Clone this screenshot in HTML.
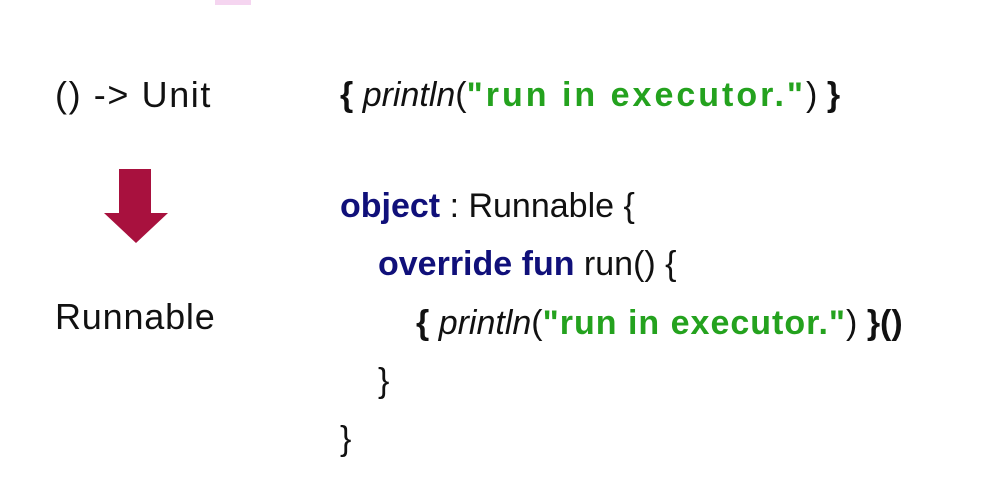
<!DOCTYPE html>
<html><head><meta charset="utf-8"><style>
body{margin:0;width:1000px;height:478px;background:#fff;position:relative;overflow:hidden;font-family:"Liberation Sans",sans-serif;color:#111}
.t{position:absolute;font-size:34px;white-space:nowrap;line-height:1}
.k{color:#10107a;font-weight:bold}
.s{color:#24a21e;font-weight:bold;letter-spacing:1.5px}
i{font-style:italic}
b{font-weight:bold}
</style></head><body>
<div style="position:absolute;left:215px;top:0;width:36px;height:5px;background:#f5d5f0"></div>
<div class="t" style="left:55px;top:77px;font-size:36px;letter-spacing:1.6px">() -&gt; Unit</div>
<div class="t" style="left:55px;top:299px;font-size:36px;letter-spacing:0.8px">Runnable</div>
<svg style="position:absolute;left:0;top:0" width="1000" height="478"><polygon points="119,169 151,169 151,213 168,213 136,243 104,213 119,213" fill="#a8113e"/></svg>
<div class="t" style="left:340px;top:78px"><b>{</b> <i>println</i>(<span class="s" style="letter-spacing:3px">"run in executor."</span>) <b>}</b></div>
<div class="t" style="left:340px;top:189px"><span class="k">object</span> : Runnable {</div>
<div class="t" style="left:378px;top:247px"><span class="k">override fun</span> run() {</div>
<div class="t" style="left:416px;top:306px"><b>{</b> <i>println</i>(<span class="s" style="letter-spacing:1px">"run in executor."</span>) <b>}()</b></div>
<div class="t" style="left:378px;top:364px">}</div>
<div class="t" style="left:340px;top:422px">}</div>
</body></html>
